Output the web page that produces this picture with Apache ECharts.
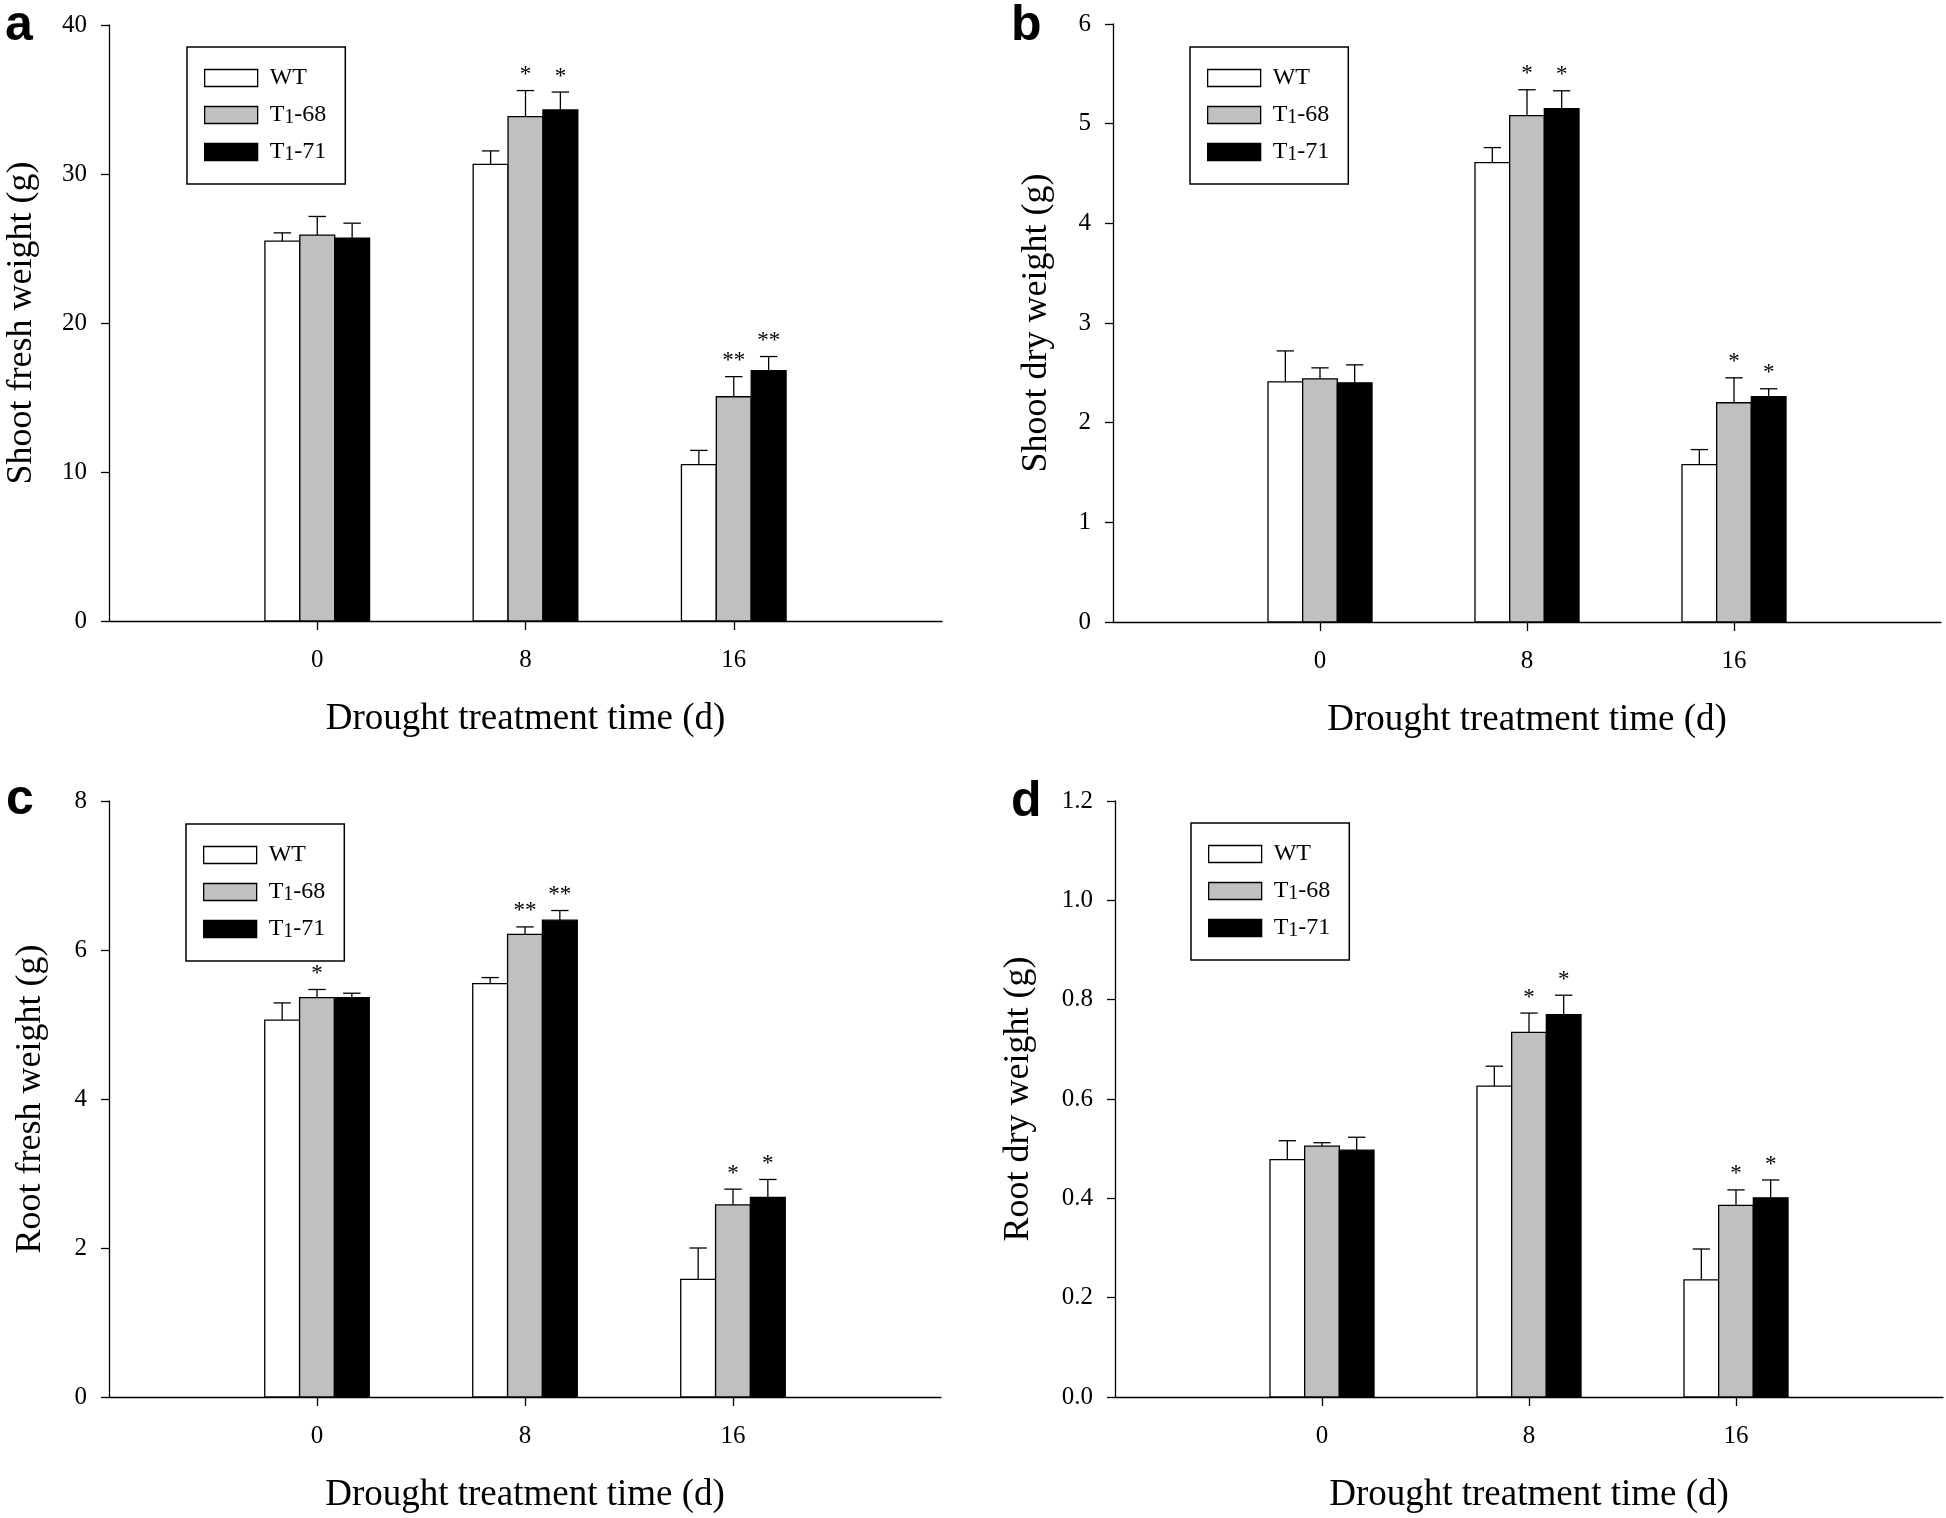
<!DOCTYPE html>
<html>
<head>
<meta charset="utf-8">
<script src="https://cdn.jsdelivr.net/npm/echarts@6/dist/echarts.min.js"></script>
<style>
html,body{margin:0;padding:0;background:#fff;}
#chart{width:1946px;height:1518px;}
</style>
</head>
<body>
<div id="chart"></div>
<script>
// ---------- data ----------
const days = [0, 8, 16];
const seriesNames = ['WT', 'T1-68', 'T1-71'];
const xTickLabels = ['0', '8', '16'];

// a: shoot fresh weight (g)
const shootFreshWT = [25.5, 30.65, 10.5];
const shootFreshWTErr = [0.55, 0.9, 0.95];
const shootFresh68 = [25.9, 33.85, 15.05];
const shootFresh68Err = [1.25, 1.75, 1.35];
const shootFresh71 = [25.7, 34.3, 16.8];
const shootFresh71Err = [1.0, 1.2, 0.95];
const shootFreshSig68 = ['', '*', '**'];
const shootFreshSig71 = ['', '*', '**'];

// b: shoot dry weight (g)
const shootDryWT = [2.41, 4.61, 1.58];
const shootDryWTErr = [0.31, 0.15, 0.15];
const shootDry68 = [2.44, 5.08, 2.2];
const shootDry68Err = [0.11, 0.26, 0.25];
const shootDry71 = [2.4, 5.15, 2.26];
const shootDry71Err = [0.18, 0.18, 0.08];
const shootDrySig68 = ['', '*', '*'];
const shootDrySig71 = ['', '*', '*'];

// c: root fresh weight (g)
const rootFreshWT = [5.06, 5.55, 1.58];
const rootFreshWTErr = [0.23, 0.08, 0.42];
const rootFresh68 = [5.36, 6.21, 2.58];
const rootFresh68Err = [0.11, 0.1, 0.21];
const rootFresh71 = [5.36, 6.4, 2.68];
const rootFresh71Err = [0.06, 0.13, 0.24];
const rootFreshSig68 = ['*', '**', '*'];
const rootFreshSig71 = ['', '**', '*'];

// d: root dry weight (g)
const rootDryWT = [0.478, 0.626, 0.236];
const rootDryWTErr = [0.038, 0.04, 0.062];
const rootDry68 = [0.505, 0.734, 0.386];
const rootDry68Err = [0.007, 0.039, 0.031];
const rootDry71 = [0.497, 0.77, 0.401];
const rootDry71Err = [0.026, 0.039, 0.036];
const rootDrySig68 = ['', '*', '*'];
const rootDrySig71 = ['', '*', '*'];

const yTitles = ['Shoot fresh weight (g)', 'Shoot dry weight (g)', 'Root fresh weight (g)', 'Root dry weight (g)'];
const xTitle = 'Drought treatment time (d)';
const panelLetters = ['a', 'b', 'c', 'd'];
const yMax = [40, 6, 8, 1.2];
const yInterval = [10, 1, 2, 0.2];

// ---------- layout / style ----------
const SERIF = 'Liberation Serif';
const fills = ['#ffffff', '#c0c0c0', '#000000'];
const BW = 1.34; // bar width in x-units
const grids = [
  {left: 109, top: 25, width: 833, height: 596},
  {left: 1113, top: 24, width: 828, height: 598},
  {left: 109, top: 801, width: 832, height: 596},
  {left: 1115, top: 801, width: 828, height: 596}
];
const nameGaps = [69, 58, 60, 78];
const legendPos = [[187, 47], [1190, 47], [186, 824], [1191, 823]];
const letterPos = [[5, 1], [1011, 1], [6, 775], [1011, 777]];

const panels = [
  {vals: [shootFreshWT, shootFresh68, shootFresh71], errs: [shootFreshWTErr, shootFresh68Err, shootFresh71Err], sigs: [null, shootFreshSig68, shootFreshSig71]},
  {vals: [shootDryWT, shootDry68, shootDry71], errs: [shootDryWTErr, shootDry68Err, shootDry71Err], sigs: [null, shootDrySig68, shootDrySig71]},
  {vals: [rootFreshWT, rootFresh68, rootFresh71], errs: [rootFreshWTErr, rootFresh68Err, rootFresh71Err], sigs: [null, rootFreshSig68, rootFreshSig71]},
  {vals: [rootDryWT, rootDry68, rootDry71], errs: [rootDryWTErr, rootDry68Err, rootDry71Err], sigs: [null, rootDrySig68, rootDrySig71]}
];

function makeRender(sIdx, sigArr) {
  const off = (sIdx - 1) * BW;
  return function (params, api) {
    const x = api.value(0), m = api.value(1), e = api.value(2);
    const tl = api.coord([x + off - BW / 2, m]);
    const br = api.coord([x + off + BW / 2, 0]);
    const ctop = api.coord([x + off, m]);
    const etop = api.coord([x + off, m + e]);
    const capL = api.coord([x + off - BW / 4, m + e]);
    const capR = api.coord([x + off + BW / 4, m + e]);
    const children = [
      {type: 'rect', shape: {x: tl[0], y: tl[1], width: br[0] - tl[0], height: br[1] - tl[1]},
       style: {fill: fills[sIdx], stroke: '#000', lineWidth: 1.3}},
      {type: 'line', shape: {x1: ctop[0], y1: ctop[1], x2: etop[0], y2: etop[1]}, style: {stroke: '#000', lineWidth: 1.3}},
      {type: 'line', shape: {x1: capL[0], y1: etop[1], x2: capR[0], y2: etop[1]}, style: {stroke: '#000', lineWidth: 1.3}}
    ];
    const sig = sigArr ? sigArr[params.dataIndex] : '';
    if (sig) {
      children.push({type: 'text', style: {text: sig, x: etop[0], y: etop[1] - 4, align: 'center', verticalAlign: 'bottom',
        font: '23px "' + SERIF + '"', fill: '#000'}});
    }
    return {type: 'group', children: children};
  };
}

const option = {
  backgroundColor: '#fff',
  animation: false,
  grid: grids,
  xAxis: grids.map((g, i) => ({
    type: 'value', gridIndex: i, min: -8, max: 24,
    axisLine: {show: true, onZero: false, lineStyle: {color: '#000', width: 1.3}},
    axisTick: {show: true, length: 9, customValues: days, lineStyle: {color: '#000', width: 1.3}},
    axisLabel: {show: true, customValues: days, margin: 27, color: '#000', fontFamily: SERIF, fontSize: 25,
      formatter: v => xTickLabels[days.indexOf(v)]},
    splitLine: {show: false},
    name: xTitle, nameLocation: 'middle', nameGap: 80,
    nameTextStyle: {color: '#000', fontFamily: SERIF, fontSize: 37}
  })),
  yAxis: grids.map((g, i) => ({
    type: 'value', gridIndex: i, min: 0, max: yMax[i], interval: yInterval[i],
    axisLine: {show: true, onZero: false, lineStyle: {color: '#000', width: 1.3}},
    axisTick: {show: true, length: 8, lineStyle: {color: '#000', width: 1.3}},
    axisLabel: {margin: 22, color: '#000', fontFamily: SERIF, fontSize: 25,
      formatter: v => (i === 3 ? v.toFixed(1) : String(v))},
    splitLine: {show: false},
    name: yTitles[i], nameLocation: 'middle', nameGap: nameGaps[i], nameRotate: 90,
    nameTextStyle: {color: '#000', fontFamily: SERIF, fontSize: 36}
  })),
  legend: legendPos.map(p => ({
    left: p[0], top: p[1], orient: 'vertical',
    padding: [18, 19, 19, 17], itemGap: 11, itemWidth: 53, itemHeight: 17,
    borderColor: '#000', borderWidth: 1.5, selectedMode: false,
    icon: 'rect',
    data: seriesNames.map((n, k) => ({name: n, itemStyle: {color: fills[k], borderColor: '#000', borderWidth: 1.3}})),
    formatter: n => (n === 'WT' ? n : 'T{s|1}' + n.slice(2)),
    textStyle: {color: '#000', fontFamily: SERIF, fontSize: 24, lineHeight: 26, padding: [0, 0, 0, 7],
      rich: {s: {fontFamily: SERIF, fontSize: 20, lineHeight: 16, color: '#000', verticalAlign: 'bottom'}}}
  })),
  graphic: panelLetters.map((t, i) => ({
    type: 'text', left: letterPos[i][0], top: letterPos[i][1],
    style: {text: t, font: 'bold 50px "Liberation Sans"', fill: '#000'}
  })),
  series: []
};

panels.forEach((p, i) => {
  for (let k = 0; k < 3; k++) {
    option.series.push({
      type: 'custom', name: seriesNames[k], xAxisIndex: i, yAxisIndex: i,
      itemStyle: {color: fills[k], borderColor: '#000'},
      encode: {x: 0, y: 1},
      data: days.map((d, j) => [d, p.vals[k][j], p.errs[k][j]]),
      renderItem: makeRender(k, p.sigs[k]),
      clip: false
    });
  }
});

const chart = echarts.init(document.getElementById('chart'), null, {renderer: 'canvas'});
chart.setOption(option);
</script>
</body>
</html>
